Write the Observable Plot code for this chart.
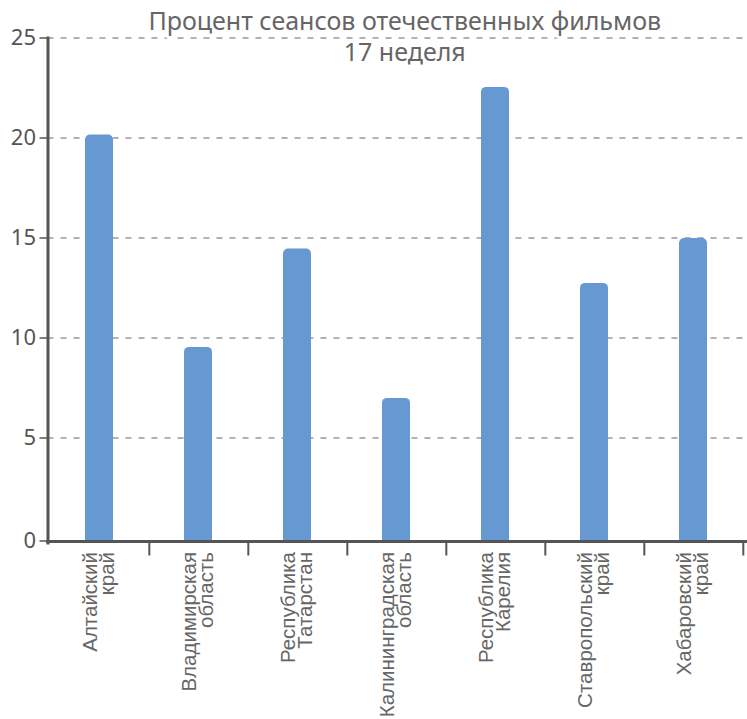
<!DOCTYPE html>
<html><head><meta charset="utf-8">
<script src="https://cdn.jsdelivr.net/npm/d3@7"></script>
<script src="https://cdn.jsdelivr.net/npm/@observablehq/plot@0.6"></script>
<style>body{margin:0;background:#fff}</style>
</head><body><div id="chart"></div>
<script>
const regions = [
  "Алтайский\nкрай",
  "Владимирская\nобласть",
  "Республика\nТатарстан",
  "Калининградская\nобласть",
  "Республика\nКарелия",
  "Ставропольский\nкрай",
  "Хабаровский\nкрай"
];
const values = [20.15, 9.53, 14.45, 6.98, 22.53, 12.73, 14.97];
const yTicks = [0, 5, 10, 15, 20, 25];
const titleLines = ["Процент сеансов отечественных фильмов", "17 неделя"];

const data = regions.map((r, i) => ({region: r, value: values[i]}));
const barColor = "#6699d1";
const W = 747, H = 719, mL = 47.5, mR = 2;
const step = (W - mL - mR) / regions.length;

const chart = Plot.plot({
  width: W, height: H,
  marginLeft: mL, marginRight: mR, marginTop: 37.5, marginBottom: 181.5,
  style: {fontFamily: "'Liberation Sans', Arial, sans-serif", background: "white"},
  x: {domain: regions, paddingInner: 0.72, paddingOuter: 0.36, label: null},
  y: {domain: [0, 25], ticks: yTicks, label: null},
  marks: [
    Plot.gridY(yTicks.filter(d => d > 0), {stroke: "#999", strokeOpacity: 1, strokeDasharray: "6,7", strokeWidth: 1.3}),
    Plot.barY(data, {x: "region", y: "value", fill: barColor, rx: 5}),
    Plot.barY(data, {x: "region", y1: 0, y2: d => Math.min(d.value, 1), insetBottom: -4, fill: barColor}),
    Plot.axisY(yTicks.filter(d => d > 0), {tickSize: 8, tickPadding: 4, fontSize: 22, fill: "#555", stroke: "#555", strokeWidth: 1.5, fontFamily: "'Noto Sans', sans-serif"}),
    Plot.axisY([0], {tickSize: 8, tickPadding: 4, dy: 3, fontSize: 22, fill: "#555", stroke: "#555", strokeWidth: 1.5, fontFamily: "'Noto Sans', sans-serif"}),
    Plot.axisX({tickSize: 14, dx: step / 2, dy: 4, tickFormat: () => "", stroke: "#555", strokeWidth: 2}),
    Plot.frame({anchor: "left", stroke: "#555", strokeWidth: 3, insetBottom: -5}),
    Plot.ruleY([0], {stroke: "#555", strokeWidth: 3, dy: 3.5, insetLeft: -1.5, insetRight: -2}),
    Plot.text(data, {x: "region", text: "region", frameAnchor: "bottom", rotate: -90, textAnchor: "end", lineAnchor: "middle", dx: 1, dy: 14, fontSize: 20.5, fill: "#666", lineHeight: 0.83}),
    Plot.text([titleLines[0]], {text: d => d, frameAnchor: "top", lineAnchor: "middle", dx: 8, dy: -16, fontSize: 25, fill: "#666", stroke: "white", strokeWidth: 6, paintOrder: "stroke", fontFamily: "'Noto Sans', sans-serif"}),
    Plot.text([titleLines[1]], {text: d => d, frameAnchor: "top", lineAnchor: "middle", dx: 8, dy: 14.5, fontSize: 25, fill: "#666", stroke: "white", strokeWidth: 6, paintOrder: "stroke", fontFamily: "'Noto Sans', sans-serif"})
  ]
});
document.getElementById("chart").appendChild(chart);
</script>
</body></html>
